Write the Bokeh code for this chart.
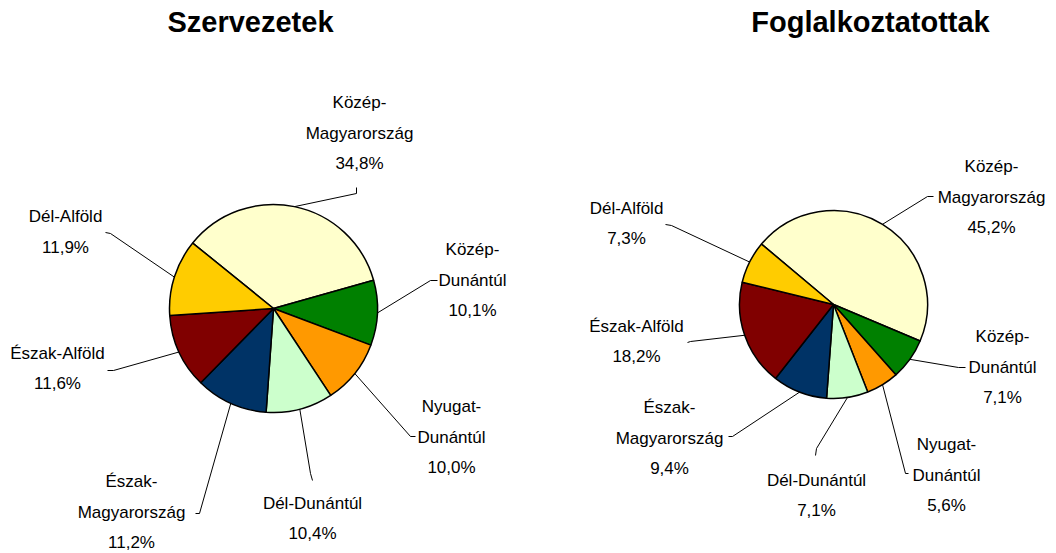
import math
from bokeh.plotting import figure
from bokeh.models import Range1d, ColumnDataSource
from bokeh.embed import file_html
from bokeh.resources import INLINE
from bokeh.core.properties import value

# ---------------- data ----------------
regions = ["Közép-Magyarország", "Közép-Dunántúl", "Nyugat-Dunántúl", "Dél-Dunántúl",
           "Észak-Magyarország", "Észak-Alföld", "Dél-Alföld"]
region_labels = ["Közép-\nMagyarország", "Közép-\nDunántúl", "Nyugat-\nDunántúl", "Dél-Dunántúl",
                 "Észak-\nMagyarország", "Észak-Alföld", "Dél-Alföld"]
szervezetek = [34.8, 10.1, 10.0, 10.4, 11.2, 11.6, 11.9]
foglalkoztatottak = [45.2, 7.1, 5.6, 7.1, 9.4, 18.2, 7.3]
colors = ["#FFFFCC", "#008000", "#FF9900", "#CCFFCC", "#003366", "#800000", "#FFCC00"]
titles = ["Szervezetek", "Foglalkoztatottak"]

# ---------------- layout (pixels, relative to pie centre) ----------------
pies = [
    dict(values=szervezetek, title=titles[0], cx=273, cy=308, r=104, start=-51, title_x=250,
         label_off=[(86, -206), (199, -59), (178, 98), (39, 194.5), (-142, 173), (-216, 44.5), (-208, -92)],
         elbow_off=[(83, -115), (157, -28), (137, 128), (37, 165), (-74, 205), (-160, 62), (-163, -75)],
         stub_off=[(83, -121), (164, -28), (142, 128), (39, 172), (-78, 205), (-166, 62), (-168, -76)]),
    dict(values=foglalkoztatottak, title=titles[1], cx=833, cy=304, r=94, start=-50, title_x=870,
         label_off=[(158, -138), (169, 32), (113, 140), (-17, 175.5), (-164, 103), (-197, 21.5), (-207, -96.5)],
         elbow_off=[(94, -108), (125, 63), (72, 169), (-17, 144), (-101, 132), (-143, 37), (-162, -79)],
         stub_off=[(100, -108), (132, 63), (75, 169), (-18, 151), (-105, 132), (-146, 38), (-168, -80)]),
]
LINE_H = 30.5
LABEL_FONT = "Liberation Sans"

W, H = 1056, 553
p = figure(width=W, height=H, x_range=Range1d(0, W), y_range=Range1d(-H, 0),
           output_backend="svg", toolbar_location=None, min_border=0,
           x_axis_type=None, y_axis_type=None)
p.grid.visible = False
p.outline_line_color = None
p.background_fill_color = "white"
p.border_fill_color = "white"

for pie in pies:
    vals = pie["values"]
    total = sum(vals)
    cx, cy, r = pie["cx"], pie["cy"], pie["r"]
    starts, ends, mids = [], [], []
    acc = pie["start"]
    for v in vals:
        a0 = acc
        a1 = acc + v / total * 360.0
        starts.append(90 - a0)
        ends.append(90 - a1)
        mids.append((a0 + a1) / 2)
        acc = a1
    src = ColumnDataSource(dict(x=[cx] * len(vals), y=[-cy] * len(vals),
                                start=starts, end=ends, color=colors, region=regions))
    p.wedge(x="x", y="y", radius=r, start_angle="start", end_angle="end",
            start_angle_units="deg", end_angle_units="deg", direction="clock",
            fill_color="color", line_color="black", line_width=1.5, source=src)

    # leader lines
    xs, ys = [], []
    for i, m in enumerate(mids):
        ex = cx + r * math.sin(math.radians(m))
        ey = cy - r * math.cos(math.radians(m))
        bx, by = cx + pie["elbow_off"][i][0], cy + pie["elbow_off"][i][1]
        sx, sy = cx + pie["stub_off"][i][0], cy + pie["stub_off"][i][1]
        xs.append([ex, bx, sx])
        ys.append([-ey, -by, -sy])
    p.multi_line(xs=xs, ys=ys, line_color="black", line_width=1)

    # labels
    tx, ty, tt = [], [], []
    for i, v in enumerate(vals):
        lines = region_labels[i].split("\n") + [f"{v:.1f}%".replace(".", ",")]
        lx, ly = cx + pie["label_off"][i][0], cy + pie["label_off"][i][1]
        for k, line in enumerate(lines):
            tx.append(lx)
            ty.append(-(ly + k * LINE_H))
            tt.append(line)
    p.text(x=tx, y=ty, text=tt, text_font=value(LABEL_FONT), text_font_size="17px",
           text_align="center", text_baseline="middle", text_color="black")

    p.text(x=[pie["title_x"]], y=[-21], text=[pie["title"]], text_font=value("Liberation Sans"),
           text_font_size="29px", text_font_style="bold", text_align="center",
           text_baseline="middle", text_color="black")

open("out.html", "w").write(file_html(p, INLINE))
